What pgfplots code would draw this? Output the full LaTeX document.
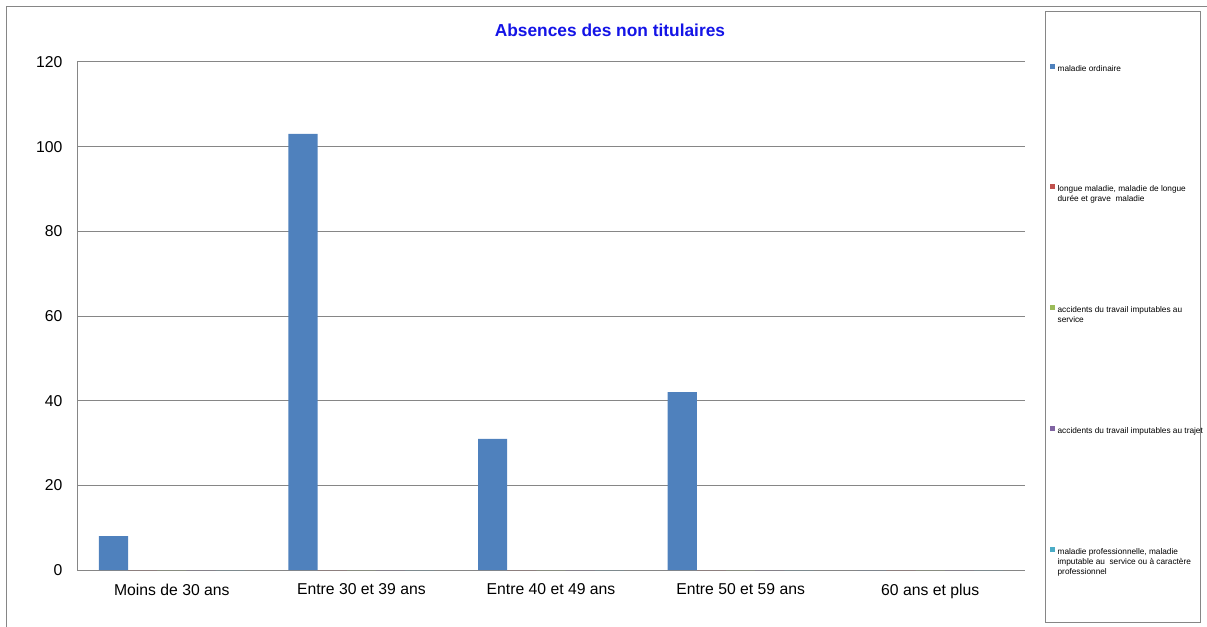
\documentclass[border=0pt]{standalone}
\usepackage{pgfplots}
\pgfplotsset{compat=1.18}
\usepackage{fontspec}
\setmainfont{Liberation Sans}

\definecolor{sBlue}{HTML}{4F81BD}
\definecolor{sRed}{HTML}{C0504D}
\definecolor{sGreen}{HTML}{9BBB59}
\definecolor{sPurple}{HTML}{8064A2}
\definecolor{sCyan}{HTML}{4BACC6}
\definecolor{gridgray}{HTML}{868686}
\definecolor{titleblue}{HTML}{1414E6}

\newcommand{\leg}[1]{\hspace{1.2pt}\parbox[t][30pt][t]{116pt}{\raggedright #1}}

\begin{document}
\begin{tikzpicture}
\useasboundingbox (0pt,0pt) rectangle (905.25pt,-470.25pt);
% chart border and legend frame
\begin{scope}[x=0.75pt,y=-0.75pt]
\draw[gridgray,line width=0.75pt] (6,640) -- (6,7) -- (1220,7);
\draw[gridgray,line width=0.75pt] (1045,12) rectangle (1200,622);
\end{scope}
\begin{axis}[
    at={(57.75pt,-427.5pt)}, anchor=south west,
    scale only axis,
    width=711pt, height=381pt,
    xmin=-0.5, xmax=4.5,
    ymin=0, ymax=120,
    ytick={0,20,...,120},
    xtick={0,1,2,3,4},
    xticklabels={Moins de 30 ans,Entre 30 et 39 ans,Entre 40 et 49 ans,Entre 50 et 59 ans,60 ans et plus},
    extra x ticks={-0.5,0.5,1.5,2.5,3.5,4.5},
    extra x tick labels={},
    extra x tick style={major tick length=5pt, tick style={gridgray,line width=0.75pt}, tick align=outside, grid=none},
    x tick style={draw=none},
    y tick style={draw=none},
    ymajorgrids,
    grid style={gridgray,line width=0.75pt},
    axis x line*=bottom, axis y line*=left,
    axis line style={gridgray,line width=0.75pt,-},
    separate axis lines,
    tick label style={font=\fontsize{11.8}{13}\selectfont, black},
    /pgf/number format/assume math mode=true,
    yticklabel style={xshift=-7.5pt},
    xticklabel style={yshift=-2.5pt},
    title={\textbf{Absences des non titulaires}},
    title style={at={(0.5622,1.047)}, anchor=center, font=\fontsize{13}{15}\selectfont, text=titleblue},
    ybar, bar width=0.15385,
    legend style={at={(1.0243,1.0)}, anchor=north west, draw=none, fill=none,
        font=\fontsize{6.2}{7.6}\selectfont, row sep=82.5pt, inner sep=1pt,
        nodes={inner sep=1pt}},
    legend cell align=left,
    legend image code/.code={\fill[#1,draw=none] (0pt,0.3pt) rectangle (3.8pt,4.1pt);},
]
\addplot[fill=sBlue, draw=none, bar shift=-0.3077] coordinates {(0,8) (1,103) (2,31) (3,42) (4,0)};
\addlegendentry{\leg{maladie ordinaire}}
\addplot[fill=sRed, draw=none, bar shift=-0.15385] coordinates {(0,0) (1,0) (2,0) (3,0) (4,0)};
\addlegendentry{\leg{longue maladie, maladie de longue\\durée et grave\ \ maladie}}
\addplot[fill=sGreen, draw=none, bar shift=0] coordinates {(0,0) (1,0) (2,0) (3,0) (4,0)};
\addlegendentry{\leg{accidents du travail imputables au\\service}}
\addplot[fill=sPurple, draw=none, bar shift=0.15385] coordinates {(0,0) (1,0) (2,0) (3,0) (4,0)};
\addlegendentry{\leg{accidents du travail imputables au trajet}}
\addplot[fill=sCyan, draw=none, bar shift=0.3077] coordinates {(0,0) (1,0) (2,0) (3,0) (4,0)};
\addlegendentry{\leg{maladie professionnelle, maladie\\imputable au\ \ service ou à caractère\\professionnel}}
\end{axis}
\end{tikzpicture}
\end{document}
